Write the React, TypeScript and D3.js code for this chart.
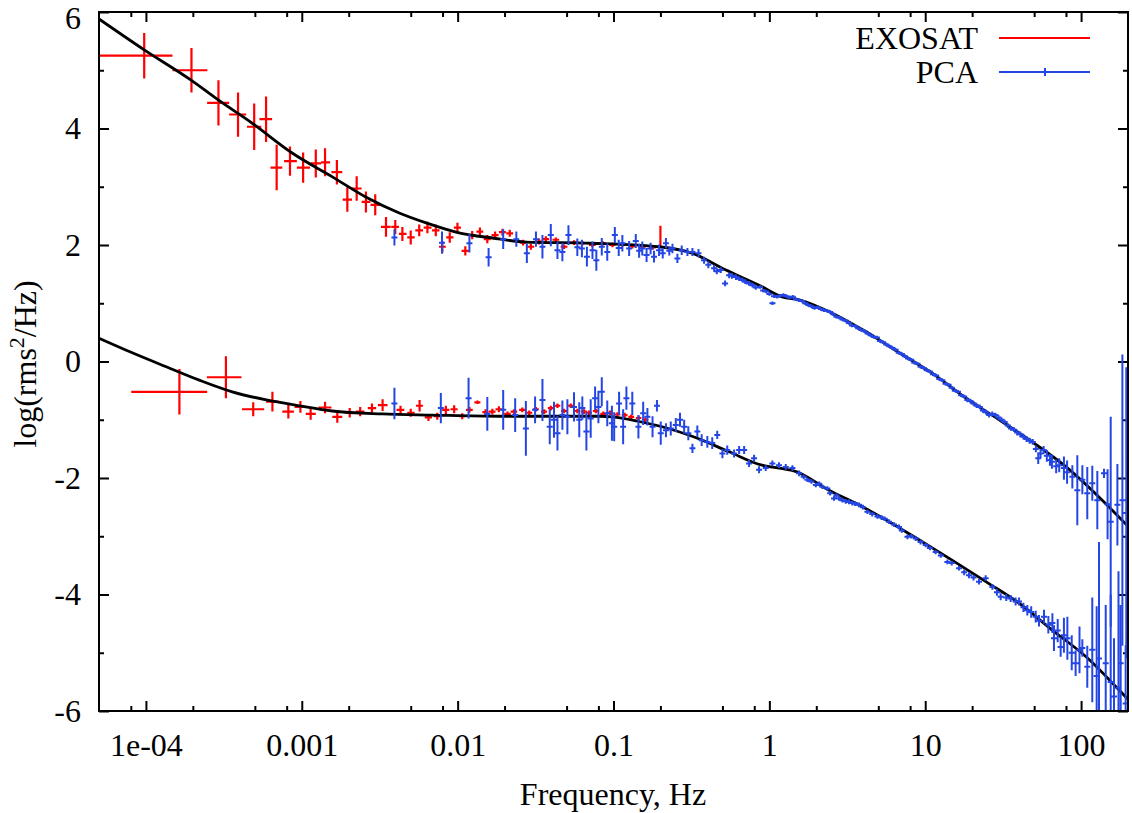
import React, { useRef, useEffect } from 'react';
import * as d3 from 'd3';

const { select, scaleLog, scaleLinear, axisBottom, axisTop, axisLeft, axisRight, line, curveMonotoneX } = d3;

// EXOSAT rows: [freq, freqLo, freqHi, value, err]
const exosatUpper: number[][] = [
  [9.75e-5, 5.0e-5, 1.48e-4, 5.25, 0.39],
  [1.96e-4, 1.48e-4, 2.48e-4, 5.0, 0.38],
  [2.92e-4, 2.47e-4, 3.42e-4, 4.44, 0.39],
  [3.9e-4, 3.42e-4, 4.4e-4, 4.24, 0.38],
  [4.95e-4, 4.45e-4, 5.5e-4, 4.03, 0.4],
  [5.9e-4, 5.35e-4, 6.45e-4, 4.16, 0.39],
  [6.9e-4, 6.3e-4, 7.5e-4, 3.33, 0.39],
  [8.4e-4, 7.7e-4, 9.3e-4, 3.44, 0.25],
  [1.02e-3, 9.3e-4, 1.13e-3, 3.33, 0.26],
  [1.23e-3, 1.14e-3, 1.33e-3, 3.4, 0.24],
  [1.41e-3, 1.33e-3, 1.52e-3, 3.42, 0.24],
  [1.68e-3, 1.55e-3, 1.82e-3, 3.25, 0.21],
  [1.96e-3, 1.83e-3, 2.1e-3, 2.78, 0.21],
  [2.25e-3, 2.1e-3, 2.42e-3, 2.97, 0.21],
  [2.58e-3, 2.42e-3, 2.76e-3, 2.74, 0.18],
  [2.96e-3, 2.76e-3, 3.2e-3, 2.69, 0.18],
  [3.47e-3, 3.22e-3, 3.72e-3, 2.31, 0.17],
  [3.98e-3, 3.75e-3, 4.2e-3, 2.31, 0.12],
  [4.42e-3, 4.2e-3, 4.7e-3, 2.19, 0.12],
  [5.0e-3, 4.75e-3, 5.3e-3, 2.13, 0.12],
  [5.67e-3, 5.35e-3, 6.0e-3, 2.25, 0.1],
  [6.4e-3, 6.05e-3, 6.8e-3, 2.3, 0.1],
  [7.24e-3, 6.85e-3, 7.65e-3, 2.25, 0.1],
  [7.98e-3, 7.6e-3, 8.4e-3, 1.97, 0.1],
  [8.9e-3, 8.45e-3, 9.4e-3, 2.13, 0.09],
  [9.97e-3, 9.45e-3, 0.0105, 2.3, 0.08],
  [0.0112, 0.0106, 0.0118, 1.9, 0.08],
  [0.0124, 0.0118, 0.013, 2.17, 0.07],
  [0.0139, 0.0132, 0.0146, 2.23, 0.07],
  [0.0155, 0.0147, 0.0163, 2.1, 0.07],
  [0.0174, 0.0165, 0.0183, 2.17, 0.06],
  [0.0194, 0.0184, 0.0204, 2.22, 0.06],
  [0.0216, 0.0205, 0.0227, 2.2, 0.06],
  [0.0263, 0.025, 0.0276, 2.04, 0.05],
  [0.0295, 0.028, 0.031, 1.97, 0.05],
  [0.0333, 0.0316, 0.035, 2.06, 0.05],
  [0.0368, 0.035, 0.0386, 2.1, 0.05],
  [0.0427, 0.0406, 0.0448, 2.09, 0.04],
  [0.0482, 0.0458, 0.0506, 1.97, 0.04],
  [0.0559, 0.0531, 0.0587, 2.04, 0.04],
  [0.063, 0.06, 0.066, 2.03, 0.04],
  [0.0732, 0.0695, 0.0769, 2.0, 0.04],
  [0.085, 0.081, 0.089, 2.03, 0.04],
  [0.0985, 0.094, 0.103, 2.0, 0.04],
  [0.114, 0.108, 0.12, 2.01, 0.04],
  [0.132, 0.125, 0.139, 1.98, 0.04],
  [0.153, 0.145, 0.161, 1.97, 0.04],
  [0.178, 0.169, 0.187, 1.96, 0.04],
  [0.2, 0.197, 0.203, 2.15, 0.18],
];

const exosatLower: number[][] = [
  [1.64e-4, 8.05e-5, 2.47e-4, -0.52, 0.39],
  [3.26e-4, 2.46e-4, 4.1e-4, -0.27, 0.36],
  [4.88e-4, 4.13e-4, 5.74e-4, -0.82, 0.12],
  [6.48e-4, 5.9e-4, 7.1e-4, -0.69, 0.17],
  [8.2e-4, 7.5e-4, 8.9e-4, -0.86, 0.12],
  [9.8e-4, 9.0e-4, 1.06e-3, -0.78, 0.1],
  [1.14e-3, 1.06e-3, 1.23e-3, -0.9, 0.1],
  [1.41e-3, 1.28e-3, 1.55e-3, -0.79, 0.1],
  [1.69e-3, 1.57e-3, 1.82e-3, -0.95, 0.1],
  [2.03e-3, 1.9e-3, 2.17e-3, -0.88, 0.08],
  [2.37e-3, 2.22e-3, 2.52e-3, -0.86, 0.08],
  [2.82e-3, 2.65e-3, 3.0e-3, -0.8, 0.08],
  [3.3e-3, 3.08e-3, 3.55e-3, -0.75, 0.1],
  [4.3e-3, 4.05e-3, 4.55e-3, -0.83, 0.07],
  [5.0e-3, 4.75e-3, 5.3e-3, -0.88, 0.07],
  [5.7e-3, 5.4e-3, 6.0e-3, -0.76, 0.1],
  [6.5e-3, 6.15e-3, 6.85e-3, -0.96, 0.06],
  [7.4e-3, 7.0e-3, 7.8e-3, -0.94, 0.06],
  [8.4e-3, 7.95e-3, 8.85e-3, -0.83, 0.07],
  [9.5e-3, 9.0e-3, 0.01, -0.82, 0.07],
  [0.0107, 0.0102, 0.0112, -0.94, 0.05],
  [0.0119, 0.0113, 0.0125, -0.83, 0.05],
  [0.0134, 0.0128, 0.014, -0.7, 0.03],
  [0.0151, 0.0144, 0.0158, -0.87, 0.05],
  [0.0167, 0.0159, 0.0175, -0.86, 0.05],
  [0.0184, 0.0175, 0.0193, -0.82, 0.05],
  [0.0209, 0.0199, 0.0219, -0.9, 0.04],
  [0.023, 0.0219, 0.0241, -0.86, 0.04],
  [0.026, 0.0248, 0.0272, -0.83, 0.04],
  [0.0288, 0.0275, 0.0301, -0.88, 0.04],
  [0.0318, 0.0304, 0.0332, -0.82, 0.04],
  [0.0359, 0.0343, 0.0375, -0.86, 0.04],
  [0.0396, 0.0379, 0.0413, -0.8, 0.04],
  [0.0437, 0.0418, 0.0456, -0.76, 0.04],
  [0.0482, 0.0461, 0.0503, -0.85, 0.04],
  [0.0532, 0.0509, 0.0555, -0.76, 0.04],
  [0.0586, 0.056, 0.0612, -0.85, 0.04],
  [0.0647, 0.0619, 0.0675, -0.86, 0.04],
  [0.0697, 0.0667, 0.0727, -0.88, 0.04],
  [0.077, 0.0737, 0.0803, -0.85, 0.04],
  [0.086, 0.0823, 0.0897, -0.9, 0.04],
  [0.095, 0.0909, 0.0991, -0.88, 0.04],
  [0.106, 0.1015, 0.1105, -0.91, 0.04],
  [0.118, 0.113, 0.123, -0.92, 0.04],
  [0.13, 0.1245, 0.1355, -0.95, 0.04],
  [0.145, 0.139, 0.151, -0.97, 0.04],
  [0.16, 0.153, 0.167, -1.0, 0.04],
];

// PCA rows: [freq, value, err]
const pcaUpper: number[][] = [
  [0.00393, 2.13, 0.14], [0.00794, 2.04, 0.19], [0.0119, 2.03, 0.16], [0.0158, 1.79, 0.16],
  [0.0196, 2.1, 0.17], [0.0238, 2.1, 0.13], [0.0278, 1.86, 0.17], [0.0318, 2.1, 0.13],
  [0.035, 1.97, 0.2], [0.0396, 2.17, 0.19], [0.0437, 1.91, 0.15], [0.047, 1.88, 0.16],
  [0.0514, 2.17, 0.17], [0.0586, 1.96, 0.15], [0.0627, 1.94, 0.15], [0.0675, 1.8, 0.17],
  [0.0733, 1.91, 0.15], [0.0776, 1.74, 0.18], [0.0841, 1.97, 0.15], [0.0912, 1.88, 0.15],
  [0.102, 2.17, 0.14], [0.108, 1.95, 0.14], [0.114, 2.03, 0.14], [0.126, 1.94, 0.13],
  [0.139, 2.07, 0.12], [0.146, 1.9, 0.12], [0.153, 1.94, 0.12], [0.163, 1.83, 0.12],
  [0.173, 1.94, 0.1], [0.182, 1.8, 0.1], [0.196, 1.91, 0.1], [0.207, 1.86, 0.09],
  [0.217, 2.03, 0.09], [0.228, 1.9, 0.08], [0.239, 1.94, 0.08], [0.257, 1.77, 0.08],
  [0.274, 1.91, 0.08], [0.298, 1.88, 0.07], [0.321, 1.88, 0.07], [0.351, 1.86, 0.07],
  [0.381, 1.74, 0.06], [0.406, 1.66, 0.06], [0.442, 1.6, 0.06], [0.46, 1.55, 0.05],
  [0.488, 1.57, 0.05], [0.52, 1.34, 0.05], [0.552, 1.48, 0.05], [0.575, 1.47, 0.05],
  [0.61, 1.45, 0.05], [0.64, 1.42, 0.04], [0.671, 1.4, 0.04], [0.7, 1.37, 0.04],
  [0.741, 1.34, 0.04], [0.78, 1.31, 0.04], [0.818, 1.27, 0.04],
  [0.871, 1.28, 0.03], [0.912, 1.22, 0.03], [0.955, 1.2, 0.03], [1.0, 1.16, 0.03],
  [1.047, 1.0, 0.03], [1.072, 1.12, 0.03], [1.122, 1.11, 0.03], [1.175, 1.13, 0.03],
  [1.23, 1.14, 0.03], [1.288, 1.12, 0.03], [1.349, 1.1, 0.03], [1.413, 1.11, 0.03],
  [1.479, 1.07, 0.03], [1.549, 1.05, 0.03], [1.622, 1.04, 0.03], [1.698, 1.0, 0.03],
  [1.778, 0.97, 0.03], [1.862, 0.95, 0.03], [1.95, 0.92, 0.03], [2.042, 0.93, 0.03],
  [2.138, 0.9, 0.03], [2.239, 0.88, 0.03], [2.344, 0.87, 0.03], [2.455, 0.85, 0.03],
  [2.57, 0.81, 0.03], [2.692, 0.77, 0.03], [2.818, 0.75, 0.03], [2.951, 0.72, 0.03],
  [3.09, 0.7, 0.03], [3.236, 0.66, 0.03], [3.388, 0.62, 0.03], [3.548, 0.61, 0.03],
  [3.715, 0.57, 0.03], [3.89, 0.54, 0.03], [4.074, 0.52, 0.03], [4.266, 0.48, 0.03],
  [4.467, 0.45, 0.03], [4.677, 0.42, 0.03], [4.898, 0.41, 0.03], [5.129, 0.35, 0.03],
  [5.37, 0.33, 0.03], [5.623, 0.29, 0.03], [5.888, 0.26, 0.03], [6.166, 0.23, 0.03],
  [6.457, 0.2, 0.03], [6.761, 0.15, 0.03], [7.079, 0.13, 0.03], [7.413, 0.09, 0.03],
  [7.762, 0.05, 0.03], [8.128, 0.03, 0.03], [8.511, -0.02, 0.03], [8.913, -0.04, 0.03],
  [9.333, -0.09, 0.03], [9.772, -0.11, 0.03], [10.23, -0.15, 0.03], [10.72, -0.17, 0.03],
  [11.22, -0.22, 0.03], [11.75, -0.24, 0.03], [12.3, -0.3, 0.03], [12.88, -0.32, 0.03],
  [13.49, -0.38, 0.03], [14.13, -0.4, 0.03], [14.79, -0.45, 0.03], [15.49, -0.5, 0.03],
  [16.22, -0.52, 0.03], [16.98, -0.58, 0.03], [17.78, -0.6, 0.03], [18.62, -0.66, 0.04],
  [19.5, -0.68, 0.04], [20.42, -0.72, 0.04], [21.38, -0.76, 0.04], [22.39, -0.78, 0.04],
  [23.44, -0.84, 0.04], [24.55, -0.87, 0.04], [25.7, -0.92, 0.04], [26.92, -0.9, 0.04],
  [28.18, -0.92, 0.04], [29.51, -0.96, 0.04], [30.9, -1.0, 0.04], [32.36, -1.04, 0.04],
  [33.88, -1.1, 0.04], [35.48, -1.15, 0.04], [37.15, -1.17, 0.04], [38.9, -1.22, 0.05],
  [40.74, -1.25, 0.05], [42.66, -1.29, 0.05], [44.67, -1.33, 0.05], [46.77, -1.36, 0.05],
  [48.98, -1.38, 0.05], [51.29, -1.5, 0.06], [53.1, -1.66, 0.1], [54.95, -1.58, 0.08],
  [57.5, -1.52, 0.07], [60.3, -1.62, 0.1], [63.1, -1.69, 0.1], [65.0, -1.72, 0.12],
  [69.2, -1.8, 0.12], [72.4, -1.78, 0.12], [77.6, -1.83, 0.2], [81.3, -1.9, 0.2],
  [87.9, -1.98, 0.2], [94.6, -2.21, 0.6], [101.9, -2.03, 0.25], [109.6, -2.26, 0.45],
  [118.0, -2.09, 0.3], [127.1, -2.38, 0.5], [140.3, -1.92, 0.08], [147.9, -2.45, 0.6],
  [154.9, -2.75, 1.8], [171.0, -2.46, 0.7], [184.1, -2.38, 2.5], [195.0, -2.6, 2.5],
];

const pcaLower: number[][] = [
  [0.00393, -0.72, 0.27], [0.0078, -0.8, 0.26], [0.01175, -0.63, 0.35], [0.0155, -0.9, 0.29],
  [0.0196, -0.83, 0.34], [0.0234, -0.92, 0.29], [0.0274, -1.15, 0.47], [0.0314, -0.83, 0.23],
  [0.035, -0.66, 0.36], [0.039, -1.12, 0.3], [0.0415, -1.0, 0.31], [0.0437, -1.23, 0.3],
  [0.047, -0.92, 0.25], [0.0506, -0.95, 0.3], [0.0558, -0.78, 0.25], [0.0603, -1.0, 0.3],
  [0.0631, -0.8, 0.2], [0.067, -1.2, 0.33], [0.0714, -0.98, 0.33], [0.0762, -0.63, 0.2],
  [0.08, -0.78, 0.28], [0.0841, -0.52, 0.25], [0.0912, -0.89, 0.22], [0.0977, -1.06, 0.3],
  [0.101, -1.12, 0.25], [0.1086, -0.72, 0.2], [0.1153, -1.12, 0.3], [0.121, -0.63, 0.2],
  [0.132, -0.72, 0.2], [0.1445, -1.12, 0.2], [0.155, -0.89, 0.2], [0.165, -0.95, 0.15],
  [0.178, -1.12, 0.18], [0.19, -0.76, 0.1], [0.201, -1.23, 0.2], [0.217, -1.18, 0.12],
  [0.233, -1.15, 0.12], [0.251, -1.09, 0.12], [0.267, -1.0, 0.12], [0.284, -1.12, 0.12],
  [0.302, -1.23, 0.12], [0.321, -1.49, 0.08], [0.345, -1.2, 0.1], [0.368, -1.35, 0.1],
  [0.4, -1.38, 0.1], [0.43, -1.4, 0.1], [0.463, -1.26, 0.07], [0.5, -1.58, 0.08],
  [0.537, -1.52, 0.08], [0.594, -1.58, 0.07], [0.64, -1.52, 0.07], [0.689, -1.52, 0.07],
  [0.741, -1.75, 0.06], [0.798, -1.66, 0.06], [0.859, -1.86, 0.06], [0.948, -1.83, 0.05],
  [1.045, -1.75, 0.05], [1.153, -1.78, 0.05], [1.274, -1.81, 0.05], [1.406, -1.83, 0.05],
  [1.552, -1.92, 0.05], [1.66, -1.98, 0.04], [1.754, -2.03, 0.04], [1.862, -2.06, 0.04],
  [1.986, -2.12, 0.04], [2.089, -2.1, 0.04], [2.188, -2.15, 0.04], [2.355, -2.18, 0.04],
  [2.455, -2.26, 0.04], [2.6, -2.35, 0.04], [2.692, -2.3, 0.04], [2.8, -2.35, 0.04],
  [2.938, -2.38, 0.04], [3.09, -2.4, 0.04], [3.243, -2.41, 0.04], [3.404, -2.43, 0.04],
  [3.548, -2.44, 0.04], [3.758, -2.46, 0.04], [3.981, -2.5, 0.04], [4.256, -2.58, 0.04],
  [4.571, -2.62, 0.04], [4.932, -2.66, 0.04], [5.248, -2.68, 0.04], [5.495, -2.7, 0.04],
  [5.86, -2.75, 0.04], [6.31, -2.8, 0.04], [6.79, -2.84, 0.04], [7.079, -2.9, 0.04],
  [7.69, -3.01, 0.04], [8.128, -3.0, 0.04], [8.69, -3.04, 0.04], [9.333, -3.1, 0.04],
  [10.07, -3.15, 0.04], [10.72, -3.2, 0.04], [11.67, -3.27, 0.04], [12.59, -3.33, 0.04],
  [13.87, -3.44, 0.04], [14.79, -3.46, 0.04], [16.48, -3.55, 0.04], [17.78, -3.62, 0.05],
  [19.1, -3.67, 0.05], [20.42, -3.71, 0.05], [22.13, -3.78, 0.05], [24.43, -3.72, 0.05],
  [26.98, -3.87, 0.05], [28.84, -3.96, 0.06], [30.48, -4.04, 0.06], [33.11, -4.05, 0.06],
  [35.32, -4.07, 0.06], [38.02, -4.12, 0.07], [39.99, -4.12, 0.07], [42.66, -4.22, 0.08],
  [45.19, -4.27, 0.09], [47.86, -4.3, 0.1], [51.17, -4.38, 0.1], [53.7, -4.45, 0.1],
  [57.81, -4.38, 0.12], [61.66, -4.52, 0.15], [65.46, -4.49, 0.17], [66.99, -4.75, 0.22],
  [70.8, -4.62, 0.2], [73.96, -4.9, 0.17], [77.6, -4.7, 0.3], [81.66, -4.75, 0.37],
  [87.1, -5.0, 0.3], [92.26, -5.18, 0.22], [97.7, -4.95, 0.4], [101.9, -4.92, 0.15],
  [109.6, -5.24, 0.36], [118.0, -4.95, 0.9], [125.9, -5.4, 1.2], [130.3, -5.1, 2.0],
  [143.9, -5.18, 1.0], [154.9, -5.5, 1.5], [162.6, -5.75, 1.0], [173.8, -5.6, 2.0],
  [179.5, -5.18, 1.0], [193.2, -5.87, 1.0],
];

// model curves: [freq, value]
const modelUpper: number[][] = [
  [5e-5, 5.88], [9.75e-5, 5.35], [1.95e-4, 4.83], [2.91e-4, 4.49], [4.81e-4, 4.09],
  [8.67e-4, 3.58], [1.57e-3, 3.17], [2.59e-3, 2.82], [4.22e-3, 2.55], [6.28e-3, 2.38],
  [0.0102, 2.21], [0.0167, 2.12], [0.0275, 2.05], [0.073, 2.03], [0.196, 1.97],
  [0.319, 1.86], [0.527, 1.57], [0.859, 1.31], [1.208, 1.11], [1.552, 1.06],
  [2.53, 0.83], [4.18, 0.51], [6.81, 0.15], [11.07, -0.2], [18.3, -0.63],
  [29.8, -1.0], [48.5, -1.38], [80.2, -1.81], [130.6, -2.33], [200, -2.83],
];

const modelLower: number[][] = [
  [5e-5, 0.4], [8.17e-5, 0.15], [1.35e-4, -0.09], [2.2e-4, -0.32], [3.58e-4, -0.52],
  [5.92e-4, -0.66], [9.64e-4, -0.76], [1.57e-3, -0.85], [3.28e-3, -0.9], [6.87e-3, -0.92],
  [0.01845, -0.94], [0.0807, -0.94], [0.098, -0.95], [0.146, -1.03], [0.205, -1.12],
  [0.339, -1.31], [0.552, -1.55], [0.897, -1.78], [1.153, -1.83], [1.483, -1.89],
  [2.41, -2.21], [3.93, -2.49], [5.6, -2.72], [9.12, -3.06], [14.86, -3.41],
  [24.5, -3.78], [40.0, -4.15], [65.2, -4.61], [107.7, -5.07], [175.4, -5.64], [200, -5.8],
];

const xMajorTicks = [1e-4, 1e-3, 0.01, 0.1, 1, 10, 100];
const xMajorLabels = ['1e-04', '0.001', '0.01', '0.1', '1', '10', '100'];
const xMinorTicks = [8e-5, 2e-4, 5e-4, 8e-4, 2e-3, 5e-3, 8e-3, 0.02, 0.05, 0.08, 0.2, 0.5, 0.8, 2, 5, 8, 20, 50, 80];
const yMajorTicks = [-6, -4, -2, 0, 2, 4, 6];
const yMinorTicks = [-5, -3, -1, 1, 3, 5];
const seriesNames = ['EXOSAT', 'PCA'];

const RED = '#ff0000';
const BLUE = '#2446e4';
const FONT = "'Liberation Serif', serif";

export default function App() {
  const ref = useRef<SVGSVGElement>(null);

  useEffect(() => {
    if (!ref.current) return;
    const width = 1132;
    const height = 813;
    const margin = { top: 12, right: 4, bottom: 102, left: 99 };
    const x0 = margin.left;
    const x1 = width - margin.right;
    const y0 = height - margin.bottom;
    const y1 = margin.top;

    const svg = select(ref.current);
    svg.selectAll('*').remove();

    const x = scaleLog().domain([5e-5, 200]).range([x0, x1]);
    const y = scaleLinear().domain([-6, 6]).range([y0, y1]);

    svg.append('defs').append('clipPath').attr('id', 'plotClip')
      .append('rect').attr('x', x0).attr('y', y1).attr('width', x1 - x0).attr('height', y0 - y1);

    const styleAxis = (g: any) => {
      g.attr('font-family', null).attr('font-size', null)
        .style('font-family', FONT).style('font-size', '32px');
      g.select('.domain').remove();
      g.selectAll('line').attr('stroke', '#000').attr('stroke-width', 2);
      g.selectAll('text').attr('fill', '#000');
    };

    // bottom axis with labels, then minor ticks
    svg.append('g').attr('transform', `translate(0,${y0})`)
      .call(axisBottom(x).tickValues(xMajorTicks)
        .tickFormat((d: any) => xMajorLabels[xMajorTicks.indexOf(d)])
        .tickSizeInner(-10).tickSizeOuter(0).tickPadding(22))
      .call(styleAxis);
    svg.append('g').attr('transform', `translate(0,${y0})`)
      .call(axisBottom(x).tickValues(xMinorTicks).tickFormat(() => '').tickSizeInner(-5).tickSizeOuter(0))
      .call(styleAxis);
    svg.append('g').attr('transform', `translate(0,${y1})`)
      .call(axisTop(x).tickValues(xMajorTicks).tickFormat(() => '').tickSizeInner(-10).tickSizeOuter(0))
      .call(styleAxis);
    svg.append('g').attr('transform', `translate(0,${y1})`)
      .call(axisTop(x).tickValues(xMinorTicks).tickFormat(() => '').tickSizeInner(-5).tickSizeOuter(0))
      .call(styleAxis);

    const yAxisG = svg.append('g').attr('transform', `translate(${x0},0)`)
      .call(axisLeft(y).tickValues(yMajorTicks).tickFormat((d: any) => String(d))
        .tickSizeInner(-10).tickSizeOuter(0).tickPadding(18))
      .call(styleAxis);
    // keep the top label inside the picture
    yAxisG.selectAll('text').filter((d: any) => d === 6).attr('dy', '0.5em');
    svg.append('g').attr('transform', `translate(${x0},0)`)
      .call(axisLeft(y).tickValues(yMinorTicks).tickFormat(() => '').tickSizeInner(-5).tickSizeOuter(0))
      .call(styleAxis);
    svg.append('g').attr('transform', `translate(${x1},0)`)
      .call(axisRight(y).tickValues(yMajorTicks).tickFormat(() => '').tickSizeInner(-10).tickSizeOuter(0))
      .call(styleAxis);
    svg.append('g').attr('transform', `translate(${x1},0)`)
      .call(axisRight(y).tickValues(yMinorTicks).tickFormat(() => '').tickSizeInner(-5).tickSizeOuter(0))
      .call(styleAxis);

    const plot = svg.append('g').attr('clip-path', 'url(#plotClip)');

    const exosatPath = (rows: number[][]) =>
      rows.map(([f, lo, hi, v, e]) =>
        `M${x(lo)},${y(v)}H${x(hi)}M${x(f)},${y(v - e)}V${y(v + e)}`).join('');
    const pcaPath = (rows: number[][]) =>
      rows.map(([f, v, e]) =>
        `M${x(f) - 3},${y(v)}H${x(f) + 3}M${x(f)},${y(v - e)}V${y(v + e)}`).join('');

    [exosatUpper, exosatLower].forEach(rows => {
      plot.append('path').attr('d', exosatPath(rows))
        .attr('fill', 'none').attr('stroke', RED).attr('stroke-width', 2.2);
    });

    const model = line<number[]>().x(d => x(d[0])).y(d => y(d[1])).curve(curveMonotoneX);
    [modelUpper, modelLower].forEach(rows => {
      plot.append('path').attr('d', model(rows) as string)
        .attr('fill', 'none').attr('stroke', '#000').attr('stroke-width', 2.8);
    });

    [pcaUpper, pcaLower].forEach(rows => {
      plot.append('path').attr('d', pcaPath(rows))
        .attr('fill', 'none').attr('stroke', BLUE).attr('stroke-width', 2);
    });

    // frame
    svg.append('rect').attr('x', x0).attr('y', y1).attr('width', x1 - x0).attr('height', y0 - y1)
      .attr('fill', 'none').attr('stroke', '#000').attr('stroke-width', 2);

    // legend
    const legend = svg.append('g').style('font-family', FONT).style('font-size', '32px');
    [RED, BLUE].forEach((c, i) => {
      const ly = 38 + i * 34;
      legend.append('text').attr('x', 978).attr('y', ly + 11).attr('text-anchor', 'end')
        .attr('fill', '#000').text(seriesNames[i]);
      legend.append('line').attr('x1', 999).attr('x2', 1090).attr('y1', ly).attr('y2', ly)
        .attr('stroke', c).attr('stroke-width', 2);
      if (i === 1) {
        legend.append('line').attr('x1', 1045).attr('x2', 1045).attr('y1', ly - 4).attr('y2', ly + 4)
          .attr('stroke', c).attr('stroke-width', 2);
      }
    });

    // axis titles
    svg.append('text').attr('x', 613).attr('y', 805).attr('text-anchor', 'middle')
      .style('font-family', FONT).style('font-size', '32px').attr('fill', '#000')
      .text('Frequency, Hz');
    const yTitle = svg.append('text').attr('transform', 'translate(36,364) rotate(-90)')
      .attr('text-anchor', 'middle').style('font-family', FONT).style('font-size', '32px').attr('fill', '#000');
    yTitle.append('tspan').text('log(rms');
    yTitle.append('tspan').attr('baseline-shift', 'super').style('font-size', '22px').text('2');
    yTitle.append('tspan').text('/Hz)');
  }, []);

  return (
    <svg ref={ref} width={1132} height={813}
      style={{ position: 'absolute', left: 0, top: 0, display: 'block', background: '#fff' }} />
  );
}
